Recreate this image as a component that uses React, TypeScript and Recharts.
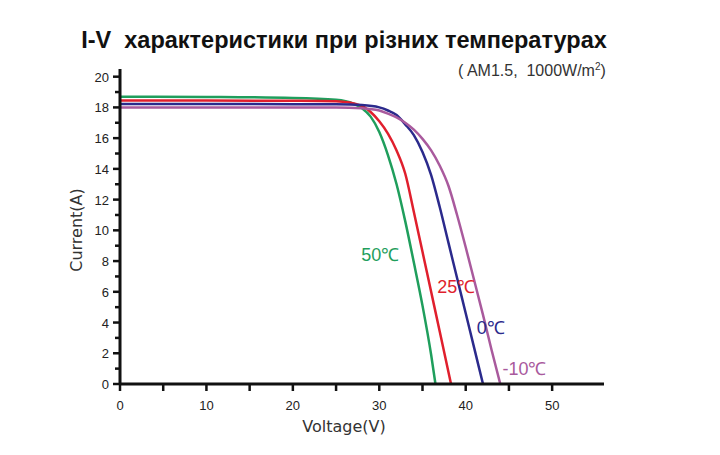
import { Line, LineChart, ReferenceDot, XAxis, YAxis } from "recharts";

// I-V curves at four module temperatures (voltage V, current A)
const curve50 = [
  { v: 0, i: 18.7 }, { v: 10, i: 18.68 }, { v: 20, i: 18.62 }, { v: 25, i: 18.5 },
  { v: 27, i: 18.25 }, { v: 28, i: 17.95 }, { v: 29, i: 17.4 }, { v: 30, i: 16.4 },
  { v: 31, i: 14.9 }, { v: 32, i: 13.0 }, { v: 33, i: 10.6 }, { v: 34, i: 7.9 },
  { v: 35, i: 5.1 }, { v: 36, i: 1.9 }, { v: 36.5, i: 0 },
];
const curve25 = [
  { v: 0, i: 18.45 }, { v: 10, i: 18.45 }, { v: 20, i: 18.43 }, { v: 25, i: 18.4 },
  { v: 28, i: 18.1 }, { v: 29, i: 17.7 }, { v: 30, i: 17.1 }, { v: 31, i: 16.3 },
  { v: 32, i: 15.2 }, { v: 33, i: 13.7 }, { v: 34, i: 11.2 }, { v: 35, i: 8.6 },
  { v: 36, i: 6.0 }, { v: 37, i: 3.4 }, { v: 38.3, i: 0 },
];
const curve0 = [
  { v: 0, i: 18.22 }, { v: 10, i: 18.22 }, { v: 20, i: 18.21 }, { v: 25, i: 18.2 },
  { v: 28, i: 18.15 }, { v: 30, i: 18.0 }, { v: 31, i: 17.8 }, { v: 32, i: 17.5 },
  { v: 33, i: 16.9 }, { v: 34, i: 16.2 }, { v: 35, i: 15.1 }, { v: 36, i: 13.6 },
  { v: 37, i: 11.5 }, { v: 38, i: 9.2 }, { v: 39, i: 6.9 }, { v: 40, i: 4.6 },
  { v: 41, i: 2.3 }, { v: 42, i: 0 },
];
const curveMinus10 = [
  { v: 0, i: 18.0 }, { v: 10, i: 18.0 }, { v: 20, i: 18.0 }, { v: 25, i: 18.0 },
  { v: 28, i: 17.95 }, { v: 30, i: 17.8 }, { v: 31, i: 17.6 }, { v: 32, i: 17.35 },
  { v: 33, i: 17.0 }, { v: 34, i: 16.55 }, { v: 35, i: 15.95 }, { v: 36, i: 15.2 },
  { v: 37, i: 14.2 }, { v: 38, i: 12.9 }, { v: 39, i: 11.0 }, { v: 40, i: 8.9 },
  { v: 41, i: 6.7 }, { v: 42, i: 4.5 }, { v: 43, i: 2.2 }, { v: 44, i: 0 },
];

const xTicks = [0, 5, 10, 15, 20, 25, 30, 35, 40, 45, 50];
const yTicks = [0, 1, 2, 3, 4, 5, 6, 7, 8, 9, 10, 11, 12, 13, 14, 15, 16, 17, 18, 19, 20];

// temperature tags placed beside each curve
const tags = [
  { text: "50℃", v: 30.1, i: 8.4, color: "#1f9e5c" },
  { text: "25℃", v: 38.9, i: 6.3, color: "#e01f2d" },
  { text: "0℃", v: 42.9, i: 3.65, color: "#2b2a8c" },
  { text: "-10℃", v: 46.8, i: 1.0, color: "#a95a9d" },
];

const INK = "#111";
const FONT = "'Liberation Sans', Arial, sans-serif";

function XTick(props: any) {
  const { x, y, payload } = props;
  const major = payload.value % 10 === 0;
  return (
    <g>
      <line x1={x} x2={x} y1={y} y2={y + 7} stroke={INK} strokeWidth={2.5} />
      {major && (
        <text x={x} y={y + 26} textAnchor="middle" fontSize={13} fontFamily={FONT} fill="#222">
          {payload.value}
        </text>
      )}
    </g>
  );
}

function YTick(props: any) {
  const { x, y, payload } = props;
  const major = payload.value % 2 === 0;
  return (
    <g>
      <line x1={x} x2={x - (major ? 7 : 5)} y1={y} y2={y} stroke={INK} strokeWidth={2.5} />
      {major && (
        <text x={x - 11} y={y + 5} textAnchor="end" fontSize={13} fontFamily={FONT} fill="#222">
          {payload.value}
        </text>
      )}
    </g>
  );
}

function Tag(props: any) {
  const { viewBox, text, color } = props;
  return (
    <text
      x={viewBox.cx ?? viewBox.x}
      y={(viewBox.cy ?? viewBox.y) + 6}
      textAnchor="middle"
      fontSize={18}
      fontFamily={FONT}
      fill={color}
    >
      {text}
    </text>
  );
}

export default function App() {
  return (
    <div style={{ position: "absolute", left: 0, top: 0, width: 720, height: 455, background: "#fff" }}>
      <div
        style={{
          position: "absolute",
          left: 0,
          width: 688,
          top: 27,
          textAlign: "center",
          fontFamily: FONT,
          fontWeight: "bold",
          fontSize: 23.5,
          color: "#111",
          whiteSpace: "pre",
        }}
      >
        {"I-V  характеристики при різних температурах"}
      </div>
      <div
        style={{
          position: "absolute",
          left: 458,
          top: 61,
          fontFamily: FONT,
          fontSize: 16,
          color: "#333",
          whiteSpace: "pre",
        }}
      >
        {"( AM1.5,  1000W/m"}
        <sup style={{ fontSize: 10 }}>2</sup>)
      </div>
      <div
        style={{
          position: "absolute",
          left: 344,
          top: 426,
          transform: "translate(-50%, -50%)",
          fontFamily: "'DejaVu Sans', sans-serif",
          fontSize: 16,
          color: "#333",
        }}
      >
        Voltage(V)
      </div>
      <div
        style={{
          position: "absolute",
          left: 76,
          top: 230,
          transform: "translate(-50%, -50%) rotate(-90deg)",
          fontFamily: "'DejaVu Sans', sans-serif",
          fontSize: 16,
          color: "#333",
          whiteSpace: "pre",
        }}
      >
        Current(A)
      </div>
      <LineChart
        width={720}
        height={455}
        margin={{ top: 69, right: 116, bottom: 0, left: 70 }}
        style={{ position: "absolute", left: 0, top: 0 }}
      >
        <XAxis
          type="number"
          dataKey="v"
          domain={[0, 56]}
          ticks={xTicks}
          interval={0}
          tickSize={0}
          tickMargin={0}
          height={71}
          axisLine={{ stroke: INK, strokeWidth: 3 }}
          tickLine={false}
          tick={<XTick />}
        />
        <YAxis
          type="number"
          dataKey="i"
          domain={[0, 20.5]}
          ticks={yTicks}
          interval={0}
          tickSize={0}
          tickMargin={0}
          width={50}
          axisLine={{ stroke: INK, strokeWidth: 3 }}
          tickLine={false}
          tick={<YTick />}
        />
        <Line data={curve50} dataKey="i" type="monotone" stroke="#1f9e5c" strokeWidth={2.5} dot={false} isAnimationActive={false} />
        <Line data={curve25} dataKey="i" type="monotone" stroke="#e01f2d" strokeWidth={2.5} dot={false} isAnimationActive={false} />
        <Line data={curve0} dataKey="i" type="monotone" stroke="#2b2a8c" strokeWidth={2.5} dot={false} isAnimationActive={false} />
        <Line data={curveMinus10} dataKey="i" type="monotone" stroke="#a95a9d" strokeWidth={2.5} dot={false} isAnimationActive={false} />
        {tags.map((t) => (
          <ReferenceDot
            key={t.text}
            x={t.v}
            y={t.i}
            r={0}
            stroke="none"
            fill="none"
            label={<Tag text={t.text} color={t.color} />}
          />
        ))}
      </LineChart>
    </div>
  );
}
